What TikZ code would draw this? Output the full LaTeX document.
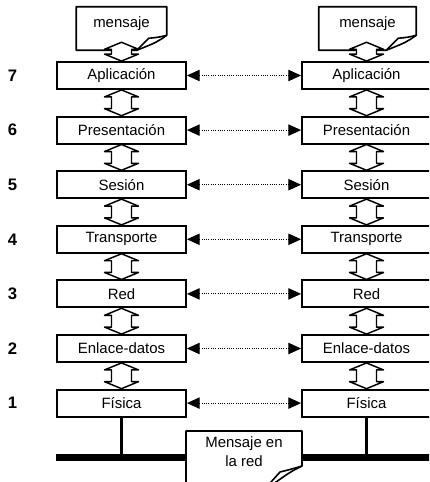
\documentclass[tikz,border=0pt]{standalone}
\usepackage{fontspec}
\setmainfont{Liberation Sans}
\usetikzlibrary{calc,arrows.meta,positioning}
\tikzset{
  lay/.style={draw,line width=1.4pt,fill=white,minimum width=96.75pt,minimum height=20.25pt,inner sep=0pt,font=\fontsize{11.2}{13}\selectfont},
  ar/.style={{Triangle[length=9.5pt,width=8.5pt]}-{Triangle[length=9.5pt,width=8.5pt]},densely dotted,line width=0.7pt},
  blk/.style={draw,line width=1.1pt,fill=white,line join=round},
  note/.style={draw,line width=1.2pt,line join=round},
  msg/.style={minimum height=32.25pt,inner sep=0pt,text depth=9pt,font=\fontsize{11.2}{13}\selectfont},
  num/.style={font=\bfseries\fontsize{12.5}{14}\selectfont},
  bus/.style={line width=5.25pt},
  drop/.style={line width=1.6pt}
}
% hollow double arrow between two anchors
\newcommand{\updn}[2]{%
  \draw[blk] (#1) -- ($(#1)+(17,7)$) -- ($(#1)+(10,7)$) -- ($(#2)+(10,-7)$) -- ($(#2)+(17,-7)$) -- (#2)
    -- ($(#2)+(-17,-7)$) -- ($(#2)+(-10,-7)$) -- ($(#1)+(-10,7)$) -- ($(#1)+(-17,7)$) -- cycle;}
\begin{document}
\begin{tikzpicture}[x=0.75pt,y=-0.75pt]
\clip (0,0) rectangle (429,482);
\fill[white] (0,0) rectangle (429,482);
% capas
\foreach \n/\lab [evaluate=\n as \yy using 75.5+(7-\n)*54.6] in {7/Aplicación,6/Presentación,5/Sesión,4/Transporte,3/Red,2/Enlace-datos,1/Física}{
  \node[lay] (L\n) at (121.5,\yy) {\lab};
  \node[lay] (R\n) at (366.5,\yy) {\lab};
  \node[num] (n\n) at (12.5,\yy) {\n};
  \draw[ar] (L\n.east) -- (R\n.west);
}
\foreach \a/\b in {7/6,6/5,5/4,4/3,3/2,2/1}{
  \updn{L\a.south}{L\b.north}
  \updn{R\a.south}{R\b.north}
}
% mensajes
\node[msg,minimum width=67.5pt] (mL) at (121.5,28.5) {mensaje};
\node[msg,minimum width=72.75pt] (mR) at (367.5,28.5) {mensaje};
\foreach \m in {mL,mR}{
  \draw[note] (\m.north west) -- (\m.north east) -- ($(\m.south east)+(0,-15)$)
    .. controls ($(\m.south east)+(-10,-8)$) .. ($(\m.south east)+(-30,0)$) -- (\m.south west) -- cycle;
  \draw[note] ($(\m.south east)+(-30,0)$) -- ($(\m.south east)+(-18,-12)$)
    .. controls ($(\m.south east)+(-8,-13)$) .. ($(\m.south east)+(0,-15)$);
}
\coordinate (mLb) at ($(L7.north |- mL.south)+(0,-8)$);
\coordinate (mRb) at ($(R7.north |- mR.south)+(0,-8)$);
\updn{mLb}{L7.north}
\updn{mRb}{R7.north}
% red
\coordinate (busy) at (0,457);
\draw[bus] (L1.west |- busy) -- (L1.east |- busy);
\draw[bus] (R1.west |- busy) -- (R1.east |- busy);
\draw[drop] (L1.south) -- (L1.south |- busy);
\draw[drop] (R1.south) -- (R1.south |- busy);
\node[font=\fontsize{11.2}{14.2}\selectfont,align=center] (net) at (244,452) {Mensaje en\\la red};
\draw[note] (186,492) -- (186,431) -- (302,431) -- (302,466) .. controls (290,472) .. (262,492);
\draw[note] (262,492) -- (280,472) .. controls (292,469) .. (302,466);
\end{tikzpicture}
\end{document}
